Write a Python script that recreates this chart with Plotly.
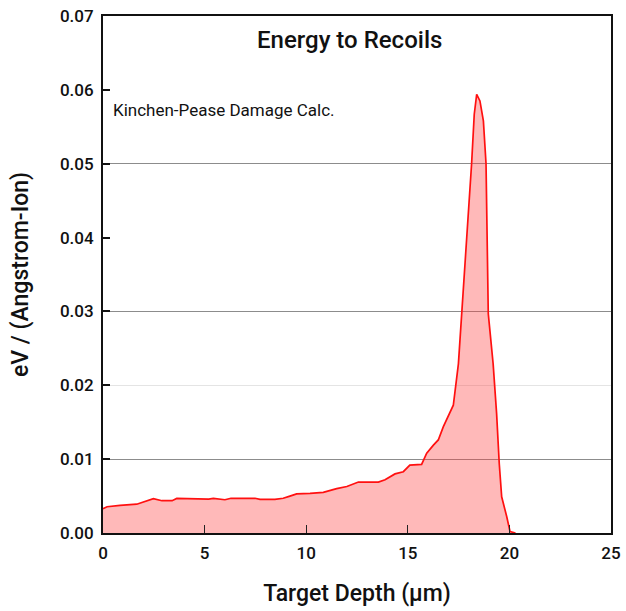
import plotly.graph_objects as go

depth = [0.0, 0.2, 0.84, 1.66, 2.48, 2.9, 3.4, 3.63, 5.2, 5.43, 6.0, 6.3, 7.48, 7.73,
         8.46, 8.87, 9.2, 9.53, 10.19, 10.84, 11.5, 12.0, 12.57, 13.55, 13.88, 14.37,
         14.78, 15.1, 15.68, 15.93, 16.26, 16.5, 16.75, 17.24, 17.49, 17.73, 17.98,
         18.14, 18.27, 18.39, 18.55, 18.72, 18.85, 18.96, 19.2, 19.37, 19.5, 19.62,
         19.87, 20.03, 20.3]
energy = [0.0033, 0.00356, 0.00374, 0.0039, 0.00464, 0.00437, 0.00437, 0.00468, 0.0046,
          0.00468, 0.0045, 0.0047, 0.0047, 0.00455, 0.00455, 0.0047, 0.0050, 0.0053,
          0.00536, 0.0055, 0.0060, 0.0063, 0.0069, 0.0069, 0.0072, 0.0080, 0.0083,
          0.0092, 0.0093, 0.0108, 0.0119, 0.0126, 0.0144, 0.0173, 0.0229, 0.0324,
          0.0423, 0.0500, 0.0567, 0.0594, 0.0585, 0.0558, 0.0500, 0.0297, 0.0229,
          0.0162, 0.0094, 0.0049, 0.0022, 0.0002, 0.0]

x_ticks = [0, 5, 10, 15, 20, 25]
y_ticks = [0.00, 0.01, 0.02, 0.03, 0.04, 0.05, 0.06, 0.07]
y_tick_text = ["0.00", "0.01", "0.02", "0.03", "0.04", "0.05", "0.06", "0.07"]
grid_strong = [0.01, 0.03, 0.05]
grid_faint = [0.02]

FONT = "Roboto"

fig = go.Figure()
fig.add_trace(go.Scatter(
    x=depth, y=energy, mode="lines",
    line=dict(color="#ff1010", width=1.7),
    fill="tozeroy", fillcolor="rgba(255,60,60,0.36)",
    showlegend=False, hoverinfo="skip",
))
# invisible traces to activate overlay axes for gridlines
fig.add_trace(go.Scatter(x=[None], y=[None], yaxis="y2", showlegend=False))
fig.add_trace(go.Scatter(x=[None], y=[None], yaxis="y3", showlegend=False))

fig.update_layout(
    width=626, height=611,
    margin=dict(l=103, r=15, t=16, b=78, autoexpand=False),
    paper_bgcolor="white", plot_bgcolor="white",
    font=dict(family=FONT, color="#111111"),
    xaxis=dict(
        range=[0, 25], tickvals=x_ticks, ticks="inside", ticklen=8, tickwidth=1,
        tickcolor="#222", showline=True, linecolor="#111", linewidth=2, mirror=True,
        showgrid=False, zeroline=False, automargin=False, ticklabelstandoff=4,
        tickfont=dict(size=17, family=FONT, weight=500),
        title=dict(text="Target Depth (µm)", font=dict(size=23, family=FONT, weight=500),
                   standoff=22),
    ),
    yaxis=dict(
        range=[0, 0.07], tickvals=y_ticks, ticktext=y_tick_text, ticks="inside",
        ticklen=7, tickwidth=2, tickcolor="#111", showline=True, linecolor="#111",
        linewidth=2, mirror=True, showgrid=False, zeroline=False, automargin=False,
        ticklabelstandoff=4,
        tickfont=dict(size=17, family=FONT, weight=500),
        title=dict(text="eV / (Angstrom-Ion)", font=dict(size=23, family=FONT, weight=500),
                   standoff=25),
    ),
    yaxis2=dict(
        range=[0, 0.07], overlaying="y", tickvals=grid_strong, showticklabels=False,
        showgrid=True, gridcolor="#8c8c8c", gridwidth=1, zeroline=False, showline=False,
    ),
    yaxis3=dict(
        range=[0, 0.07], overlaying="y", tickvals=grid_faint, showticklabels=False,
        showgrid=True, gridcolor="#e4e4e4", gridwidth=1, zeroline=False, showline=False,
    ),
    annotations=[
        dict(text="Energy to Recoils", x=0.486, y=0.954, xref="paper", yref="paper",
             showarrow=False, xanchor="center", yanchor="middle",
             font=dict(size=24, family=FONT, weight=500)),
        dict(text="Kinchen-Pease Damage Calc.", x=0.016, y=0.818, xref="paper",
             yref="paper", showarrow=False, xanchor="left", yanchor="middle",
             font=dict(size=17, family=FONT)),
    ],
)
fig.write_html("out.html")
